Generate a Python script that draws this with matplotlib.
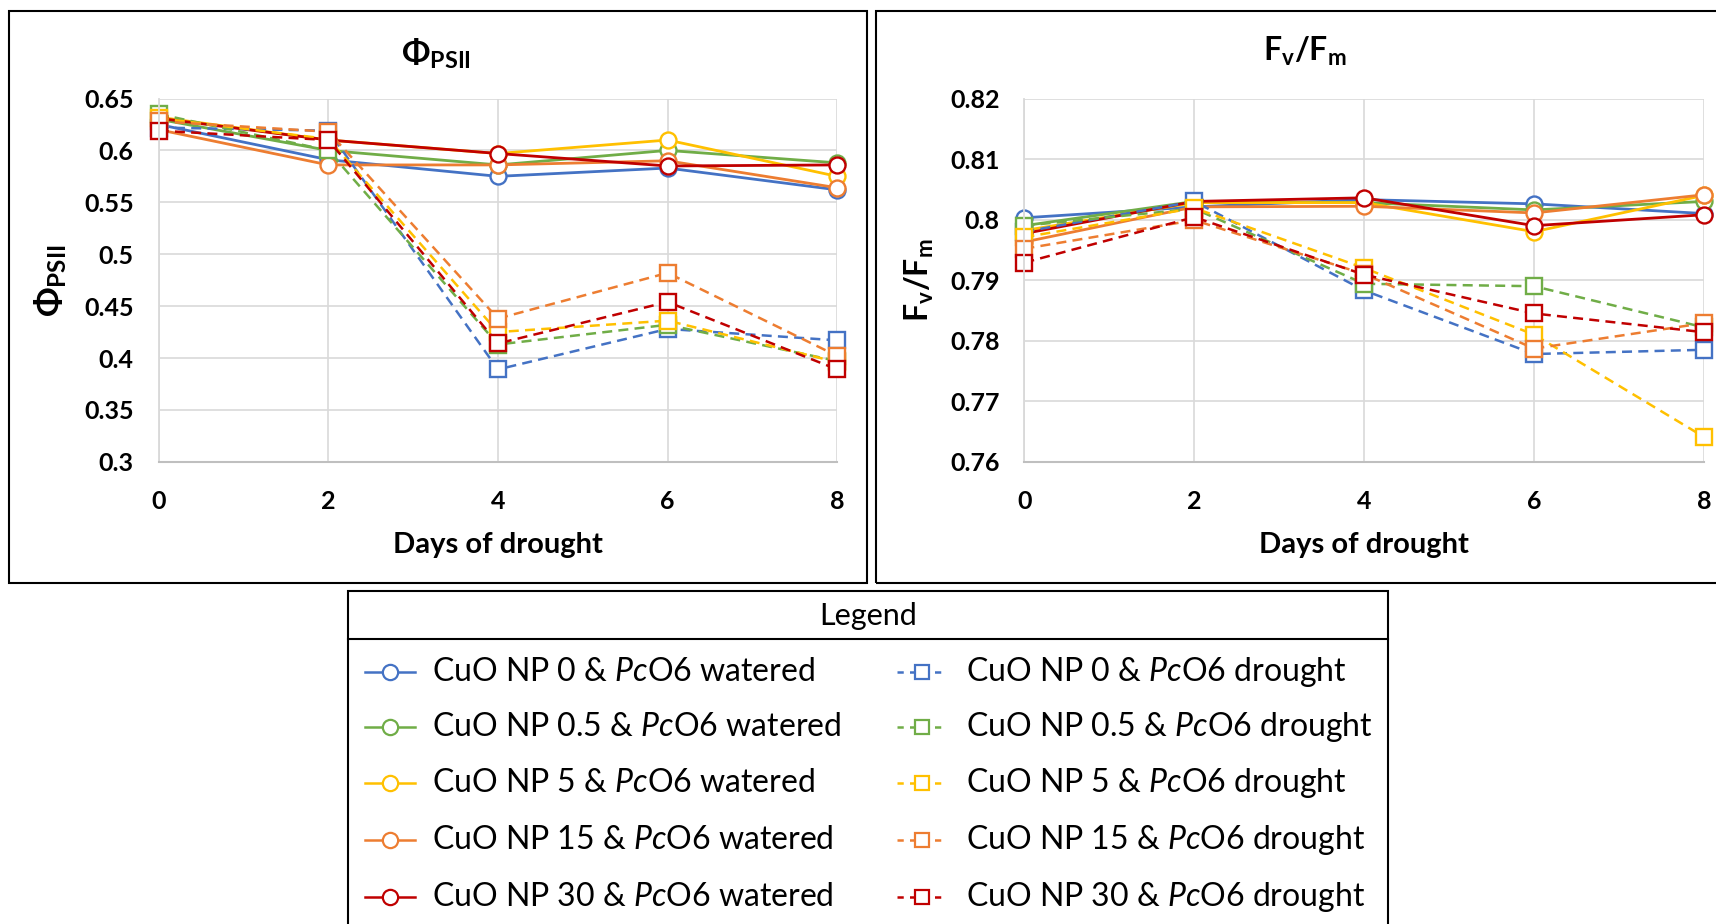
import matplotlib
matplotlib.use('Agg')
import matplotlib.pyplot as plt
from matplotlib.lines import Line2D
from matplotlib.patches import Rectangle

plt.rcParams['font.family'] = ['Lato', 'DejaVu Sans']
plt.rcParams['mathtext.fontset'] = 'custom'
plt.rcParams['mathtext.rm'] = 'Lato'
plt.rcParams['mathtext.it'] = 'Lato:italic'
plt.rcParams['mathtext.bf'] = 'Lato:bold'
plt.rcParams['mathtext.fallback'] = 'stixsans'

days = [0, 2, 4, 6, 8]
doses = ['0', '0.5', '5', '15', '30']
colors = ['#4472C4', '#70AD47', '#FFC000', '#ED7D31', '#C00000']

# PhiPSII, one row per CuO NP dose
psii_watered = [
    [0.625, 0.591, 0.575, 0.583, 0.562],
    [0.630, 0.600, 0.586, 0.600, 0.588],
    [0.632, 0.610, 0.597, 0.610, 0.575],
    [0.620, 0.586, 0.586, 0.590, 0.564],
    [0.631, 0.610, 0.597, 0.585, 0.586],
]
psii_drought = [
    [0.622, 0.619, 0.389, 0.428, 0.417],
    [0.635, 0.600, 0.413, 0.432, 0.397],
    [0.631, 0.611, 0.425, 0.436, 0.396],
    [0.628, 0.618, 0.438, 0.482, 0.402],
    [0.619, 0.610, 0.414, 0.454, 0.389],
]

# Fv/Fm
fvfm_watered = [
    [0.8003, 0.8021, 0.8033, 0.8026, 0.8010],
    [0.7990, 0.8030, 0.8028, 0.8016, 0.8030],
    [0.7982, 0.8028, 0.8028, 0.7980, 0.8040],
    [0.7963, 0.8021, 0.8022, 0.8011, 0.8041],
    [0.7977, 0.8030, 0.8036, 0.7990, 0.8008],
]
fvfm_drought = [
    [0.7980, 0.8030, 0.7883, 0.7778, 0.7785],
    [0.7990, 0.8018, 0.7894, 0.7890, 0.7822],
    [0.7971, 0.8019, 0.7920, 0.7810, 0.7641],
    [0.7952, 0.7999, 0.7910, 0.7787, 0.7829],
    [0.7929, 0.8004, 0.7909, 0.7845, 0.7814],
]

psii_ticks = [0.3, 0.35, 0.4, 0.45, 0.5, 0.55, 0.6, 0.65]
fvfm_ticks = [0.76, 0.77, 0.78, 0.79, 0.8, 0.81, 0.82]

W, H = 1716, 924
fig = plt.figure(figsize=(W / 100, H / 100), dpi=100)


def fx(px):
    return px / W


def fy(py):
    return 1 - py / H


def style_axes(ax, yticks):
    ax.set_xlim(0, 8)
    ax.set_ylim(yticks[0], yticks[-1])
    ax.set_xticks(days)
    ax.set_xticklabels([str(d) for d in days], fontweight='bold', fontsize=18)
    ax.set_yticks(yticks)
    ax.set_yticklabels([f'{t:g}' for t in yticks], fontweight='bold', fontsize=18)
    ax.tick_params(length=0)
    ax.tick_params(axis='x', pad=20)
    ax.tick_params(axis='y', pad=18)
    ax.grid(True, color='#D9D9D9', lw=1.2)
    ax.set_axisbelow(True)
    for s in ['top', 'right']:
        ax.spines[s].set_visible(False)
    ax.spines['left'].set_color('#D9D9D9')
    ax.spines['left'].set_linewidth(1.3)
    ax.spines['bottom'].set_color('#BFBFBF')
    ax.spines['bottom'].set_linewidth(1.5)
    ax.set_xlabel('Days of drought', fontweight='bold', fontsize=21, va='center')
    ax.xaxis.set_label_coords(0.5, -0.229)


def draw_series(ax, watered, drought):
    # watered series first, drought on top
    for i in range(len(doses)):
        ax.plot(days, watered[i], color=colors[i], lw=2.0, marker='o', ms=11.5,
                mfc='white', mec=colors[i], mew=1.7, clip_on=False)
    for i in range(len(doses)):
        ax.plot(days, drought[i], color=colors[i], lw=1.8, ls=(0, (4, 2.5)),
                marker='s', ms=11, mfc='white', mec=colors[i], mew=1.7,
                clip_on=False)


bottom = fy(461.8)
height = (461.8 - 98.5) / H
ax1 = fig.add_axes([fx(158.7), bottom, (837.2 - 158.7) / W, height])
ax2 = fig.add_axes([fx(1024.4), bottom, (1704 - 1024.4) / W, height])

draw_series(ax1, psii_watered, psii_drought)
draw_series(ax2, fvfm_watered, fvfm_drought)
style_axes(ax1, psii_ticks)
style_axes(ax2, fvfm_ticks)

ax1.set_ylabel(r'$\mathbf{\Phi_{PSII}}$', fontsize=25, va='center')
ax1.yaxis.set_label_coords(-0.159, 0.498)
ax2.set_ylabel(r'$\mathbf{F_v/F_m}$', fontsize=23, va='center')
ax2.yaxis.set_label_coords(-0.154, 0.5)

fig.text(fx(436), fy(54), r'$\mathbf{\Phi_{PSII}}$', fontsize=24, ha='center', va='center')
fig.text(fx(1305), fy(51), r'$\mathbf{F_v/F_m}$', fontsize=23, ha='center', va='center')

# panel frames
fig.add_artist(Rectangle((fx(8.8), fy(583)), (866.8 - 8.8) / W, (583 - 11) / H,
                         transform=fig.transFigure, fill=False, ec='black', lw=1.5))
fig.add_artist(Rectangle((fx(875.5), fy(583)), (1760 - 875.5) / W, (583 - 11) / H,
                         transform=fig.transFigure, fill=False, ec='black', lw=1.5))

# legend box
fig.add_artist(Rectangle((fx(348), fy(960)), (1388 - 348) / W, (960 - 591) / H,
                         transform=fig.transFigure, fill=False, ec='black', lw=1.5))
fig.add_artist(Line2D([fx(348), fx(1388)], [fy(639), fy(639)],
                      transform=fig.transFigure, color='black', lw=1.5))
fig.text(fx(868), fy(616), 'Legend', fontsize=22, ha='center', va='center')

row_y = [671.7, 726.7, 782.7, 840, 896.7]
for i, dose in enumerate(doses):
    for col, (cond, mk, ls, hx0, tx) in enumerate([
            ('watered', 'o', '-', 365, 432),
            ('drought', 's', (0, (2.5, 2.5)), 897, 966)]):
        y = fy(row_y[i])
        fig.add_artist(Line2D([fx(hx0), fx(hx0 + 50)], [y, y], transform=fig.transFigure,
                              color=colors[i], lw=1.8, ls=ls))
        fig.add_artist(Line2D([fx(hx0 + 25)], [y], transform=fig.transFigure,
                              marker=mk, ms=11 if mk == 'o' else 10.5, mfc='white',
                              mec=colors[i], mew=1.6, ls='none'))
        fig.text(fx(tx), y, f'CuO NP {dose} & ' + r'$\mathit{Pc}$' + f'O6 {cond}',
                 fontsize=23, ha='left', va='center')

fig.savefig('out.png', dpi=100)
